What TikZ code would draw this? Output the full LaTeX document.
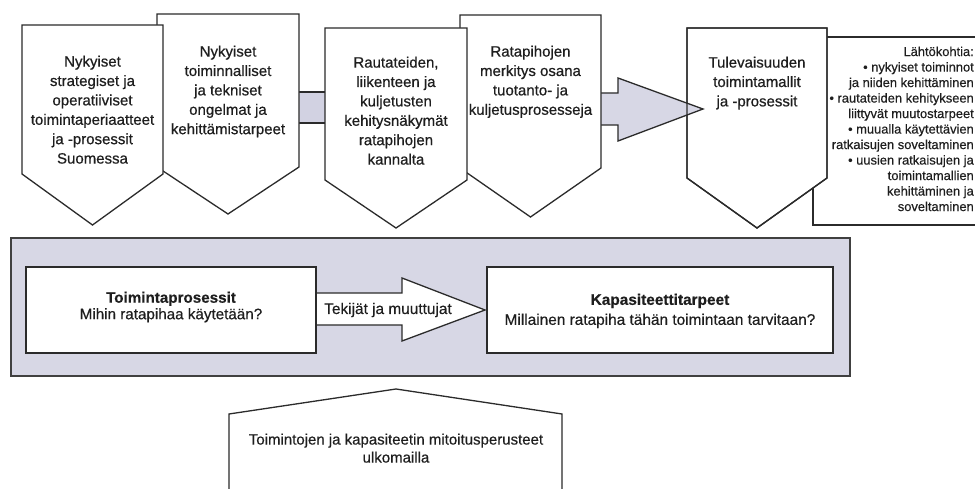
\documentclass[tikz,border=0pt]{standalone}
\usepackage{fontspec}
\setmainfont{Liberation Sans}
\newfontfamily\heavyfont{Liberation Sans}[FakeBold=0.6]
\newfontfamily\midfont{Liberation Sans}[FakeBold=0.35]
\definecolor{edge}{HTML}{2B2B2B}
\definecolor{lav}{HTML}{D7D7E5}
\definecolor{bar}{HTML}{D2D2E2}
\definecolor{txt}{HTML}{1E1E1E}
\tikzset{
  shp/.style={draw=edge, line width=1.3pt, fill=white, line join=miter},
  shpline/.style={draw=edge, line width=1.3pt, line join=miter},
  toptext/.style={anchor=north, align=center, inner sep=0pt, text=txt,
    font=\heavyfont\fontsize{15}{19.4}\selectfont},
  midtext/.style={anchor=north, align=center, inner sep=0pt, text=txt},
  boxtext/.style={anchor=north east, align=right, inner sep=0pt, text=txt,
    font=\midfont\fontsize{12.9}{15.5}\selectfont},
}
\begin{document}
\begin{tikzpicture}[x=1pt,y=-1pt]
\clip (0,0) rectangle (975,489);
\fill[white] (0,0) rectangle (975,489);

% right info box (behind fifth pentagon)
\draw[shp] (813,37) rectangle (995,225);
\node[boxtext] (info) at (974,46.5) {Lähtökohtia:\\• nykyiset toiminnot\\ja niiden kehittäminen\\• rautateiden kehitykseen\\liittyvät muutostarpeet\\• muualla käytettävien\\ratkaisujen soveltaminen\\• uusien ratkaisujen ja\\toimintamallien\\kehittäminen ja\\soveltaminen};

% fifth pentagon
\draw[shp] (687,28) -- (827,28) -- (827,178) -- (757,228) -- (687,178) -- cycle;
% big arrow
\draw[draw=edge, line width=1.3pt, fill=lav, line join=miter]
  (595,93) -- (618,93) -- (618,78) -- (703,109) -- (618,141) -- (618,125) -- (595,125) -- cycle;
\draw[shpline] (687,28) -- (827,28) -- (827,178) -- (757,228) -- (687,178) -- cycle;
\node[toptext] (p5) at (757,56.5) {Tulevaisuuden\\toimintamallit\\ja -prosessit};

% connecting bar between 2nd and 3rd
\draw[draw=edge, line width=1.3pt, fill=bar] (293,92) rectangle (331,123);

% fourth and third pentagons
\draw[shp] (460,15) -- (601,15) -- (601,168) -- (530.5,217) -- (460,168) -- cycle;
\draw[shp] (325,28) -- (467,28) -- (467,180) -- (396,228) -- (325,180) -- cycle;
\node[toptext] (p4) at (530.5,45.5) {Ratapihojen\\merkitys osana\\tuotanto- ja\\kuljetusprosesseja};
\node[toptext] (p3) at (396,56.5) {Rautateiden,\\liikenteen ja\\kuljetusten\\kehitysnäkymät\\ratapihojen\\kannalta};

% second and first pentagons
\draw[shp] (157,14) -- (299,14) -- (299,167) -- (228,214) -- (157,167) -- cycle;
\draw[shp] (22,25) -- (163,25) -- (163,174) -- (92.5,225) -- (22,174) -- cycle;
\node[toptext] (p2) at (228,45.5) {Nykyiset\\toiminnalliset\\ja tekniset\\ongelmat ja\\kehittämistarpeet};
\node[toptext] (p1) at (92.5,55.5) {Nykyiset\\strategiset ja\\operatiiviset\\toimintaperiaatteet\\ja -prosessit\\Suomessa};

% middle panel
\draw[draw=edge!90, line width=1.5pt, fill=lav] (11,238) rectangle (850,376);
\draw[draw=edge, line width=1.3pt, fill=white, line join=miter]
  (310,293) -- (402,293) -- (402,278) -- (485,310) -- (402,341) -- (402,325) -- (310,325) -- cycle;
\draw[shp] (26,267) rectangle (316,353);
\draw[shp] (487,267) rectangle (833,353);
\node[midtext, font=\midfont\fontsize{15.2}{16.5}\selectfont] (proc) at (171,291.5) {\textbf{Toimintaprosessit}\\Mihin ratapihaa käytetään?};
\node[midtext, font=\midfont\fontsize{15.4}{20}\selectfont] (kap) at (660,293.5) {\textbf{Kapasiteettitarpeet}\\Millainen ratapiha tähän toimintaan tarvitaan?};
\node[inner sep=0pt, text=txt, font=\midfont\fontsize{15.4}{18}\selectfont] (tek) at (388,310) {Tekijät ja muuttujat};

% bottom shape
\draw[shp] (229,500) -- (229,414) -- (396,389) -- (562,414) -- (562,500);
\node[midtext, font=\midfont\fontsize{15}{18}\selectfont] (ulko) at (396,433.5) {Toimintojen ja kapasiteetin mitoitusperusteet\\ulkomailla};
\end{tikzpicture}
\end{document}
